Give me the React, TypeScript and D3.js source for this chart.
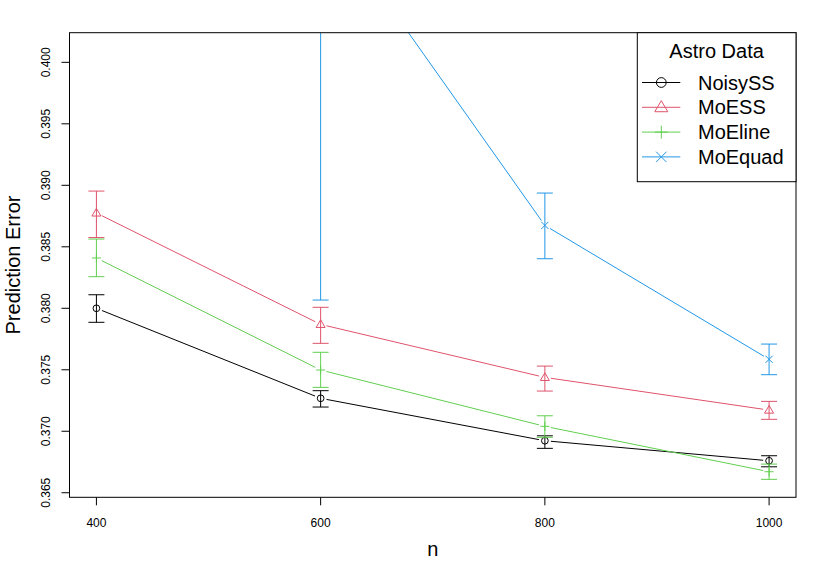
import * as d3 from "d3";

const nValues = [400, 600, 800, 1000];
const seriesNames = ["NoisySS", "MoESS", "MoEline", "MoEquad"];
const seriesColors = ["#000000", "#DF536B", "#61D04F", "#2297E6"];
const seriesShapes = ["circle", "triangle", "plus", "cross"];

// mean, lower and upper ends of the error bars, per n
const noisySS = [0.38, 0.37268, 0.36923, 0.3676];
const noisySSLow = [0.37886, 0.37197, 0.36861, 0.36711];
const noisySSHigh = [0.3811, 0.3733, 0.36963, 0.36801];

const moESS = [0.38775, 0.37869, 0.37438, 0.37172];
const moESSLow = [0.38575, 0.37715, 0.37327, 0.37097];
const moESSHigh = [0.38953, 0.38008, 0.3753, 0.37243];

const moEline = [0.38409, 0.37498, 0.3704, 0.36671];
const moElineLow = [0.38257, 0.37357, 0.36951, 0.36609];
const moElineHigh = [0.38563, 0.37642, 0.37126, 0.36733];

const moEquad = [0.445, 0.4125, 0.38674, 0.37585];
const moEquadLow = [0.433, 0.38067, 0.38403, 0.3746];
const moEquadHigh = [0.457, 0.4443, 0.38937, 0.37709];

const yTicks = [0.365, 0.37, 0.375, 0.38, 0.385, 0.39, 0.395, 0.4];

const means = [noisySS, moESS, moEline, moEquad];
const lows = [noisySSLow, moESSLow, moElineLow, moEquadLow];
const highs = [noisySSHigh, moESSHigh, moElineHigh, moEquadHigh];

const W = 830;
const H = 581;
const left = 69.5;
const right = 796;
const top = 32.7;
const bottom = 497.3;

function Marker({ shape, x, y, s, color }) {
  if (shape === "circle")
    return <circle cx={x} cy={y} r={s * 0.75} fill="none" stroke={color} />;
  if (shape === "triangle") {
    const h = s * 1.7;
    const p = [
      [x, y - h * 0.6],
      [x - s, y + h * 0.4],
      [x + s, y + h * 0.4],
    ];
    return <polygon points={p.map((d) => d.join(",")).join(" ")} fill="none" stroke={color} />;
  }
  if (shape === "plus")
    return (
      <path d={`M${x - s},${y}H${x + s}M${x},${y - s}V${y + s}`} stroke={color} />
    );
  const c = s * 0.8;
  return (
    <path d={`M${x - c},${y - c}L${x + c},${y + c}M${x - c},${y + c}L${x + c},${y - c}`} stroke={color} />
  );
}

export default function App() {
  const x = d3.scaleLinear().domain([376, 1024]).range([left, right]);
  const y = d3.scaleLinear().domain([0.36463, 0.40241]).range([bottom, top]);
  const gap = 6;
  const cap = 8;

  return (
    <svg
      width={W}
      height={H}
      style={{ position: "absolute", left: 0, top: 0, background: "#fff" }}
      fontFamily="'Liberation Sans', Arial, sans-serif"
    >
      <defs>
        <clipPath id="plotArea">
          <rect x={left} y={top} width={right - left} height={bottom - top} />
        </clipPath>
      </defs>

      <g clipPath="url(#plotArea)" strokeWidth={1} fill="none">
        {means.map((vals, si) => {
          const color = seriesColors[si];
          const pts = vals.map((v, i) => [x(nValues[i]), y(v)]);
          return (
            <g key={si}>
              {pts.slice(1).map((p, i) => {
                const a = pts[i];
                const dx = p[0] - a[0];
                const dy = p[1] - a[1];
                const len = Math.hypot(dx, dy);
                const ux = dx / len;
                const uy = dy / len;
                return (
                  <line
                    key={i}
                    x1={a[0] + ux * gap}
                    y1={a[1] + uy * gap}
                    x2={p[0] - ux * gap}
                    y2={p[1] - uy * gap}
                    stroke={color}
                  />
                );
              })}
              {nValues.map((n, i) => {
                const cx = x(n);
                const y0 = y(lows[si][i]);
                const y1 = y(highs[si][i]);
                return (
                  <path
                    key={"e" + i}
                    d={`M${cx},${y0}V${y1}M${cx - cap},${y0}H${cx + cap}M${cx - cap},${y1}H${cx + cap}`}
                    stroke={color}
                  />
                );
              })}
              {pts.map((p, i) => (
                <Marker key={"m" + i} shape={seriesShapes[si]} x={p[0]} y={p[1]} s={4.5} color={color} />
              ))}
            </g>
          );
        })}
      </g>

      <rect x={left} y={top} width={right - left} height={bottom - top} fill="none" stroke="#000" />

      {yTicks.map((t) => (
        <g key={t}>
          <line x1={left - 8} x2={left} y1={y(t)} y2={y(t)} stroke="#000" />
          <text
            transform={`translate(49.5,${y(t)}) rotate(-90)`}
            textAnchor="middle"
            fontSize={12}
          >
            {d3.format(".3f")(t)}
          </text>
        </g>
      ))}

      {nValues.map((n) => (
        <g key={n}>
          <line x1={x(n)} x2={x(n)} y1={bottom} y2={bottom + 8} stroke="#000" />
          <text x={x(n)} y={527} textAnchor="middle" fontSize={12}>
            {n}
          </text>
        </g>
      ))}

      <text x={(left + right) / 2} y={556} textAnchor="middle" fontSize={20}>
        n
      </text>
      <text transform={`translate(20,${(top + bottom) / 2}) rotate(-90)`} textAnchor="middle" fontSize={20}>
        Prediction Error
      </text>

      <g>
        <rect x={637.3} y={top} width={right - 637.3} height={181.7 - top} fill="#fff" stroke="#000" />
        <text x={716.6} y={58} textAnchor="middle" fontSize={20}>
          Astro Data
        </text>
        {seriesNames.map((name, i) => {
          const ly = 82.5 + i * 24.8;
          return (
            <g key={name} fill="none">
              <line x1={642} x2={680.3} y1={ly} y2={ly} stroke={seriesColors[i]} />
              <Marker shape={seriesShapes[i]} x={661.3} y={ly} s={6.5} color={seriesColors[i]} />
              <text x={698} y={ly + 7} fontSize={20} fill="#000">
                {name}
              </text>
            </g>
          );
        })}
      </g>
    </svg>
  );
}
